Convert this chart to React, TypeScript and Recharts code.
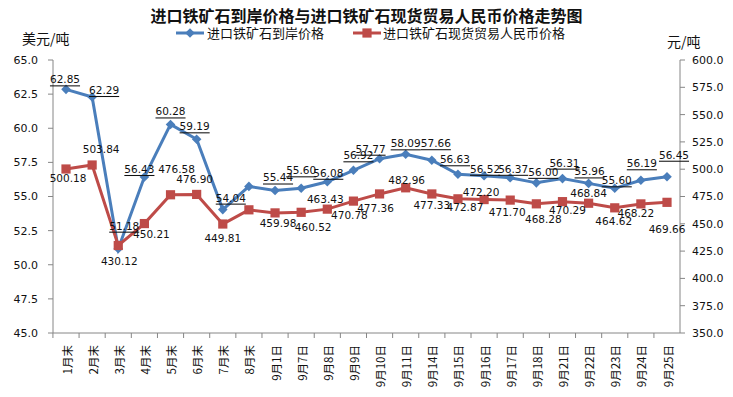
import React from 'react';
import { LineChart, Line, XAxis, YAxis, Legend } from 'recharts';

const categories = ['1月末', '2月末', '3月末', '4月末', '5月末', '6月末', '7月末', '8月末', '9月1日', '9月7日', '9月8日', '9月9日', '9月10日', '9月11日', '9月14日', '9月15日', '9月16日', '9月17日', '9月18日', '9月21日', '9月22日', '9月23日', '9月24日', '9月25日'];
const usdPrice = [62.85, 62.29, 51.18, 56.43, 60.28, 59.19, 54.04, 55.74, 55.44, 55.6, 56.08, 56.92, 57.77, 58.09, 57.66, 56.63, 56.52, 56.37, 56.0, 56.31, 55.96, 55.6, 56.19, 56.45];
const rmbPrice = [500.18, 503.84, 430.12, 450.21, 476.58, 476.9, 449.81, 462.8, 459.98, 460.52, 463.43, 470.78, 477.36, 482.96, 477.33, 472.87, 472.2, 471.7, 468.28, 470.29, 468.84, 464.62, 468.22, 469.66];
const leftTicks = [45, 47.5, 50, 52.5, 55, 57.5, 60, 62.5, 65];
const rightTicks = [350, 375, 400, 425, 450, 475, 500, 525, 550, 575, 600];
const usdName = '进口铁矿石到岸价格';
const rmbName = '进口铁矿石现货贸易人民币价格';
const titleText = '进口铁矿石到岸价格与进口铁矿石现货贸易人民币价格走势图';

// label nudges (dx, dy of label centre relative to the point); null = no label
const usdLabelNudge: ([number, number] | null)[] = [
  [-1, -10], [12, -7], [6, -23], [-5, -8], [0, -13], [-2, -13], [8, -12], null,
  [3, -13], [0, -18], [1, -9], [5, -15], [-9, -10], [0, -11], [4, -17], [-3, -15],
  [1, -7], [3, -9], [7, -11], [2, -16], [1, -12], [2, -8], [1, -17], [7, -22],
];
const rmbLabelNudge: ([number, number] | null)[] = [
  [2, 9], [9, -16], [1, 15], [7, 10], [6, -26], [-2, -15], [0, 14], null,
  [3, 10], [12, 15], [-2, -10], [-4, 14], [-4, 14], [1, -8], [0, 11], [7, 8],
  [-3, -8], [-3, 12], [7, 15], [5, 8], [0, -10], [-1, 13], [-5, 9], [0, 27],
];

const data = categories.map((name, i) => ({ name, usd: usdPrice[i], rmb: rmbPrice[i] }));

const BLUE = '#4A7EBB';
const RED = '#BE4B48';
const AXIS = '#868686';
const NUM_FONT = '"DejaVu Sans", Verdana, sans-serif';
const CJK_FONT = '"Noto Sans CJK SC", "DejaVu Sans", sans-serif';

const W = 733;
const H = 397;
const PLOT_LEFT = 53;
const PLOT_RIGHT = 680;
const PLOT_TOP = 60;
const X_AXIS_H = 64;
const EDGE_PAD = 13;
const HALF_STEP = (PLOT_RIGHT - PLOT_LEFT - 2 * EDGE_PAD) / (categories.length - 1) / 2;

const Diamond = (p: any) => {
  const { cx, cy, index } = p;
  if (cx == null || cy == null) return <g key={`bd${index}`} />;
  const r = 4.8;
  return (
    <path
      key={`bd${index}`}
      d={`M${cx},${cy - r}L${cx + r},${cy}L${cx},${cy + r}L${cx - r},${cy}Z`}
      fill={BLUE}
    />
  );
};

const Square = (p: any) => {
  const { cx, cy, index } = p;
  if (cx == null || cy == null) return <g key={`rs${index}`} />;
  const r = 4.6;
  return <rect key={`rs${index}`} x={cx - r} y={cy - r} width={2 * r} height={2 * r} fill={RED} />;
};

const makeLabel = (nudges: ([number, number] | null)[], underline: boolean) => (p: any) => {
  const { x, y, index, value } = p;
  const n = nudges[index];
  if (!n || x == null || y == null) return <g key={`l${index}`} />;
  return (
    <text
      key={`l${index}`}
      x={x + n[0]}
      y={y + n[1]}
      textAnchor="middle"
      dominantBaseline="central"
      fontSize={10.5}
      fontFamily={NUM_FONT}
      fill="#111"
      style={underline ? { textDecoration: 'underline' } : undefined}
    >
      {Number(value).toFixed(2)}
    </text>
  );
};

const CategoryTick = (p: any) => {
  const { x, y, payload } = p;
  return (
    <g>
      <line x1={x - HALF_STEP} x2={x - HALF_STEP} y1={y} y2={y + 5} stroke={AXIS} />
      <text
        transform={`translate(${x + 0.5},${y + 12}) rotate(-90)`}
        textAnchor="end"
        dominantBaseline="central"
        fontSize={11.5}
        fontFamily={CJK_FONT}
        fill="#111"
      >
        {payload.value}
      </text>
    </g>
  );
};

const LegendContent = () => (
  <div style={{ position: 'relative', width: W, height: 18, fontFamily: CJK_FONT, fontSize: 13, color: '#111' }}>
    <svg style={{ position: 'absolute', left: 176, top: 2 }} width={28} height={14}>
      <line x1={0} x2={28} y1={7} y2={7} stroke={BLUE} strokeWidth={3} />
      <path d="M14,2.2L18.8,7L14,11.8L9.2,7Z" fill={BLUE} />
    </svg>
    <span style={{ position: 'absolute', left: 207, top: 1, lineHeight: '16px', whiteSpace: 'nowrap' }}>{usdName}</span>
    <svg style={{ position: 'absolute', left: 353, top: 2 }} width={28} height={14}>
      <line x1={0} x2={28} y1={7} y2={7} stroke={RED} strokeWidth={3} />
      <rect x={9.4} y={2.4} width={9.2} height={9.2} fill={RED} />
    </svg>
    <span style={{ position: 'absolute', left: 383, top: 1, lineHeight: '16px', whiteSpace: 'nowrap' }}>{rmbName}</span>
  </div>
);

export default function App() {
  return (
    <div style={{ position: 'absolute', left: 0, top: 0, width: W, height: H, background: '#fff' }}>
      <div
        style={{
          position: 'absolute', left: 0, top: 6, width: W, textAlign: 'center',
          fontFamily: CJK_FONT, fontWeight: 'bold', fontSize: 16, lineHeight: '18px', color: '#111',
        }}
      >
        {titleText}
      </div>
      <div style={{ position: 'absolute', left: 22, top: 30, fontFamily: CJK_FONT, fontSize: 14, lineHeight: '16px', color: '#111' }}>
        美元/吨
      </div>
      <div style={{ position: 'absolute', left: 667, top: 33, fontFamily: CJK_FONT, fontSize: 14, lineHeight: '16px', color: '#111' }}>
        元/吨
      </div>
      <LineChart
        width={W}
        height={H}
        data={data}
        margin={{ top: PLOT_TOP, right: 0, left: 0, bottom: 0 }}
      >
        <Legend
          layout="vertical"
          align="center"
          verticalAlign="middle"
          content={LegendContent}
          wrapperStyle={{ top: 24, left: 0, width: W, height: 18 }}
        />
        <XAxis
          dataKey="name"
          scale="point"
          padding={{ left: EDGE_PAD, right: EDGE_PAD }}
          height={X_AXIS_H}
          interval={0}
          tickLine={false}
          tickSize={0}
          tickMargin={0}
          axisLine={{ stroke: AXIS }}
          tick={CategoryTick}
        />
        <YAxis
          yAxisId="l"
          domain={[45, 65]}
          ticks={leftTicks}
          interval={0}
          width={PLOT_LEFT}
          tickSize={5}
          tickMargin={10}
          axisLine={{ stroke: AXIS }}
          tickLine={{ stroke: AXIS }}
          tick={{ fontSize: 11, fill: '#111', fontFamily: NUM_FONT }}
          tickFormatter={(v: number) => v.toFixed(1)}
        />
        <YAxis
          yAxisId="r"
          orientation="right"
          domain={[350, 600]}
          ticks={rightTicks}
          interval={0}
          width={W - PLOT_RIGHT}
          tickSize={5}
          tickMargin={7}
          axisLine={{ stroke: AXIS }}
          tickLine={{ stroke: AXIS }}
          tick={{ fontSize: 11, fill: '#111', fontFamily: NUM_FONT }}
          tickFormatter={(v: number) => v.toFixed(1)}
        />
        <Line
          yAxisId="l"
          dataKey="usd"
          name={usdName}
          stroke={BLUE}
          strokeWidth={3}
          dot={Diamond}
          activeDot={false}
          label={makeLabel(usdLabelNudge, true)}
          isAnimationActive={false}
        />
        <Line
          yAxisId="r"
          dataKey="rmb"
          name={rmbName}
          stroke={RED}
          strokeWidth={3}
          dot={Square}
          activeDot={false}
          label={makeLabel(rmbLabelNudge, false)}
          isAnimationActive={false}
        />
      </LineChart>
    </div>
  );
}
